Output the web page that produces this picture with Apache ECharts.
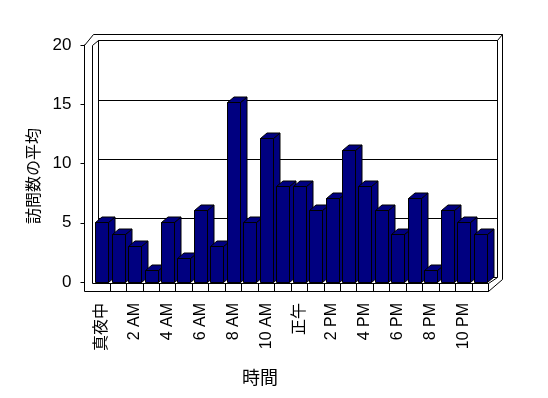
<!DOCTYPE html>
<html>
<head>
<meta charset="utf-8">
<script src="https://cdn.jsdelivr.net/npm/echarts@6/dist/echarts.min.js"></script>
<style>
  html, body { margin: 0; padding: 0; background: #fff; }
  #chart { width: 548px; height: 398px; }
</style>
</head>
<body>
<div id="chart"></div>
<script>
// hours of the day (x categories)
const hours = ['真夜中', '1 AM', '2 AM', '3 AM', '4 AM', '5 AM', '6 AM', '7 AM', '8 AM', '9 AM', '10 AM', '11 AM',
  '正午', '1 PM', '2 PM', '3 PM', '4 PM', '5 PM', '6 PM', '7 PM', '8 PM', '9 PM', '10 PM', '11 PM']
// average visits per hour
const visits = [5, 4, 3, 1, 5, 2, 6, 3, 15, 5, 12, 8, 8, 6, 7, 11, 8, 6, 4, 7, 1, 6, 5, 4]
const yTicks = [0, 5, 10, 15, 20]

const BAR_COLOR = '#000080'
const DX = 6.5, DY = -5.5 // 3d depth of the columns
const FONT = 'Liberation Sans, Arial, "Noto Sans CJK JP", sans-serif'

// 3d box outline (pixel layout)
const F = { fl: 84.5, fi: 92.5, ft: 45.5, fb: 291.5, fft: 283.5, fr: 488.5,
  bl: 98.5, bt: 40.5, br: 497.5, bb: 277.5, ot: 34.5, ol: 93.5, or: 502.5 }

function line(points, z) {
  return { type: 'polyline', z: z, silent: true, shape: { points: points },
    style: { stroke: '#000', lineWidth: 1, fill: null } }
}

function renderBar(params, api) {
  const top = api.coord([api.value(0), api.value(1)])
  const base = api.coord([api.value(0), 0])
  const w = 13
  const x0 = Math.round(top[0] - w / 2) + 0.5
  const x1 = x0 + w
  const yt = Math.round(top[1]) + 0.5
  const yb = Math.round(base[1]) + 0.5
  const style = { fill: BAR_COLOR, stroke: '#000', lineWidth: 1 }
  return {
    type: 'group',
    children: [
      { type: 'polygon', shape: { points: [[x1, yt], [x1 + DX, yt + DY], [x1 + DX, yb + DY], [x1, yb]] }, style: style },
      { type: 'polygon', shape: { points: [[x0, yt], [x0 + DX, yt + DY], [x1 + DX, yt + DY], [x1, yt]] }, style: style },
      { type: 'rect', shape: { x: x0, y: yt, width: w, height: yb - yt }, style: style },
    ],
  }
}

const myChart = echarts.init(document.getElementById('chart'))
myChart.setOption({
  animation: false,
  backgroundColor: '#fff',
  grid: [
    { left: 93.4, top: 42, width: 395, height: 240 },   // columns (front faces)
    { left: 98.5, top: 40.5, width: 399, height: 237 }, // back wall
    { left: 84.5, top: 45, width: 10, height: 237 },    // front value axis
    { left: 93.4, top: 283.5, width: 395, height: 8 },  // floor front face
  ],
  xAxis: [
    {
      gridIndex: 0, type: 'category', data: hours,
      axisLine: { show: false }, axisTick: { show: false },
      axisLabel: { interval: 1, rotate: 90, margin: 21, fontSize: 16, color: '#000', fontFamily: FONT },
    },
    { gridIndex: 1, type: 'value', show: false },
    { gridIndex: 2, type: 'value', show: false },
    {
      gridIndex: 3, type: 'category', data: hours,
      axisLine: { show: false }, axisLabel: { show: false },
      axisTick: { show: true, inside: true, length: 8, interval: (i) => i > 0, lineStyle: { color: '#000' } },
    },
  ],
  yAxis: [
    { gridIndex: 0, type: 'value', min: 0, max: 20, show: false },
    {
      gridIndex: 1, type: 'value', min: 0, max: 20, interval: 5,
      axisLine: { show: false }, axisTick: { show: false }, axisLabel: { show: false },
      splitLine: { show: true, lineStyle: { color: '#000', width: 1 } },
    },
    {
      gridIndex: 2, type: 'value', min: yTicks[0], max: yTicks[yTicks.length - 1], interval: 5,
      axisLine: { show: true, lineStyle: { color: '#000' } },
      axisTick: { show: true, length: 4, lineStyle: { color: '#000' } },
      axisLabel: { margin: 13, fontSize: 17, color: '#000', fontFamily: FONT },
      splitLine: { show: false },
    },
    { gridIndex: 3, type: 'value', show: false },
  ],
  graphic: [
    line([[F.bl, F.bb], [F.bl, F.bt], [F.br, F.bt], [F.br, F.bb]], 0),
    line([[F.br, F.bt], [F.or, F.ot]], 0),
    line([[F.fl, F.fb], [F.fl, F.ft], [F.ol, F.ot], [F.or, F.ot], [F.or, F.fb - 12], [F.fr, F.fb], [F.fl, F.fb]], 10),
    line([[F.fi, F.ft], [F.fi, F.fft], [F.fr, F.fft], [F.fr, F.fb]], 10),
    line([[F.fi, F.ft], [F.bl, F.bt]], 10),
    line([[F.fr, F.fft], [F.br, F.bb]], 10),
    {
      type: 'text', x: 33, y: 176, rotation: Math.PI / 2, silent: true,
      style: { text: '訪問数の平均', font: '16px "Noto Sans CJK JP"', fill: '#000', align: 'center', verticalAlign: 'middle' },
    },
    {
      type: 'text', x: 260, y: 377, silent: true,
      style: { text: '時間', font: '18px "Noto Sans CJK JP"', fill: '#000', align: 'center', verticalAlign: 'middle' },
    },
  ],
  series: [
    {
      type: 'custom',
      xAxisIndex: 0,
      yAxisIndex: 0,
      renderItem: renderBar,
      encode: { x: 0, y: 1 },
      data: visits.map((v, i) => [i, v]),
      z: 5,
    },
  ],
})

window.addEventListener('resize', () => {
  myChart.resize()
})
</script>
</body>
</html>
